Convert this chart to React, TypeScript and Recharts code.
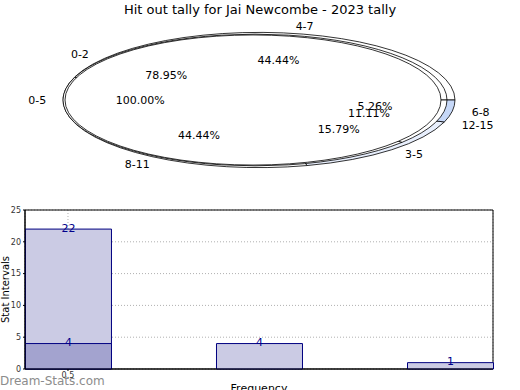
import React from 'react';
import {
  PieChart,
  Pie,
  Cell,
  BarChart,
  Bar,
  XAxis,
  YAxis,
  CartesianGrid,
  LabelList,
  ReferenceArea
} from 'recharts';

// pie groups (counts behind the percentages)
const groupANames = ['0-2', '3-5', '6-8'];
const groupAValues = [15, 3, 1];
const groupAColors = ['#ffffff', '#e8effd', '#c6d8f8'];

const groupBNames = ['4-7', '8-11', '12-15'];
const groupBValues = [4, 4, 1];
const groupBColors = ['#ffffff', '#ffffff', '#ffffff'];

const groupCNames = ['0-5'];
const groupCValues = [19];
const groupCColors = ['#ffffff'];

// bar chart
const barX = [0.5, 1.5, 2.5];
const barTotals = [22, 4, 1];
const barOverlay = [4, null, null];
const yTicks = [0, 5, 10, 15, 20, 25];
const xTicks = [0.5];

const RADIAN = Math.PI / 180;
const FONT = '"DejaVu Sans", sans-serif';

const toRows = (names: string[], values: number[]) =>
  names.map((name, i) => ({ name, value: values[i] }));

const barData = barX.map((x, i) => ({ x, total: barTotals[i], overlay: barOverlay[i] }));

// elliptical sector instead of the round one, flat = ry / rx
const makeSector = (flat: number) => (props: any) => {
  const { cx, cy, outerRadius, startAngle, endAngle, fill } = props;
  const rx = outerRadius;
  const ry = outerRadius * flat;
  if (Math.abs(endAngle - startAngle) >= 359.99) {
    return <ellipse cx={cx} cy={cy} rx={rx} ry={ry} fill={fill} stroke="#000" strokeWidth={0.8} />;
  }
  const pt = (a: number) => [cx + rx * Math.cos(a * RADIAN), cy - ry * Math.sin(a * RADIAN)];
  const [x1, y1] = pt(startAngle);
  const [x2, y2] = pt(endAngle);
  const large = Math.abs(endAngle - startAngle) > 180 ? 1 : 0;
  return (
    <path
      d={`M${cx},${cy} L${x1},${y1} A${rx},${ry} 0 ${large} 0 ${x2},${y2} Z`}
      fill={fill}
      stroke="#000"
      strokeWidth={0.8}
      strokeLinejoin="round"
    />
  );
};

const NoSector = () => <g />;

const makeLabel = (flat: number) => (p: any) => {
  const { cx, cy, outerRadius, midAngle, percent, name } = p;
  const rx = outerRadius;
  const ry = outerRadius * flat;
  const c = Math.cos(midAngle * RADIAN);
  const s = Math.sin(midAngle * RADIAN);
  const ox = cx + rx * 1.1 * c;
  const oy = cy - ry * 1.1 * s;
  const ix = cx + rx * 0.6 * c;
  const iy = cy - ry * 0.6 * s;
  return (
    <g>
      <text x={ox} y={oy} textAnchor={c < 0 ? 'end' : 'start'} dominantBaseline="central" fontSize={11} fill="#000" fontFamily={FONT}>
        {name}
      </text>
      <text x={ix} y={iy} textAnchor="middle" dominantBaseline="central" fontSize={11} fill="#000" fontFamily={FONT}>
        {`${(percent * 100).toFixed(2)}%`}
      </text>
    </g>
  );
};

// cx/r draw the ring, lcx/lr place its texts
const pies = [
  { key: 'a', names: groupANames, values: groupAValues, colors: groupAColors, cx: 259, r: 196, lcx: 259, lr: 196, flat: 0.345 },
  { key: 'b', names: groupBNames, values: groupBValues, colors: groupBColors, cx: 255, r: 192, lcx: 258, lr: 197, flat: 0.343 },
  { key: 'c', names: groupCNames, values: groupCValues, colors: groupCColors, cx: 253, r: 188, lcx: 253, lr: 188, flat: 0.346 }
];

const BarValueLabel = (props: any) => {
  const { x, y, width, value } = props;
  if (value == null) return null;
  return (
    <text x={x + width / 2} y={y - 1} textAnchor="middle" dominantBaseline="central" fontSize={11} fill="#00008b" fontFamily={FONT}>
      {value}
    </text>
  );
};

const YTitle = (props: any) => {
  const vb = props.viewBox || { y: 10, height: 159 };
  const cy = vb.y + vb.height / 2;
  return (
    <text x={5} y={cy} transform={`rotate(-90, 5, ${cy})`} textAnchor="middle" dominantBaseline="central" fontSize={10} fill="#000" fontFamily={FONT}>
      Stat Intervals
    </text>
  );
};

export default function App() {
  return (
    <div style={{ position: 'absolute', left: 0, top: 0, width: 520, height: 390, overflow: 'hidden', background: '#fff', fontFamily: FONT }}>
      <div style={{ position: 'absolute', top: 2, left: 0, width: 520, textAlign: 'center', fontSize: 13, lineHeight: '16px', color: '#000' }}>
        Hit out tally for Jai Newcombe - 2023 tally
      </div>

      <div style={{ position: 'absolute', top: 0, left: 0 }}>
        <PieChart width={520} height={200} margin={{ top: 0, right: 0, bottom: 0, left: 0 }}>
          {pies.map((g) => (
            <Pie
              key={g.key}
              data={toRows(g.names, g.values)}
              dataKey="value"
              nameKey="name"
              cx={g.cx}
              cy={100}
              innerRadius={0}
              outerRadius={g.r}
              startAngle={0}
              endAngle={360}
              stroke="#000"
              labelLine={false}
              label={false}
              shape={makeSector(g.flat)}
              activeShape={makeSector(g.flat)}
              inactiveShape={makeSector(g.flat)}
              isAnimationActive={false}
            >
              {g.colors.map((c, i) => (
                <Cell key={`cell-${g.key}-${i}`} fill={c} />
              ))}
            </Pie>
          ))}
          {pies.map((g) => (
            <Pie
              key={`lbl-${g.key}`}
              data={toRows(g.names, g.values)}
              dataKey="value"
              nameKey="name"
              cx={g.lcx}
              cy={100}
              innerRadius={0}
              outerRadius={g.lr}
              startAngle={0}
              endAngle={360}
              labelLine={false}
              label={makeLabel(g.flat)}
              shape={NoSector}
              activeShape={NoSector}
              inactiveShape={NoSector}
              isAnimationActive={false}
            />
          ))}
        </PieChart>
      </div>

      <div style={{ position: 'absolute', top: 200, left: 0 }}>
        <BarChart width={520} height={200} data={barData} margin={{ top: 10, right: 27, left: 0, bottom: 0 }}>
          <CartesianGrid xAxisId="a" stroke="#b0b0b0" strokeDasharray="1 2" />
          <XAxis
            xAxisId="a"
            dataKey="x"
            type="number"
            domain={[0.275, 2.725]}
            ticks={xTicks}
            height={31}
            tickSize={2}
            tickMargin={1}
            tick={{ fontSize: 8, fill: '#333', fontFamily: FONT }}
            stroke="#000"
            label={{ value: 'Frequency', position: 'insideBottom', offset: 8, fontSize: 11, fill: '#000', fontFamily: FONT }}
          />
          <XAxis xAxisId="b" dataKey="x" type="number" domain={[0.275, 2.725]} hide />
          <YAxis
            domain={[0, 25]}
            ticks={yTicks}
            width={25}
            tickSize={2}
            tickMargin={2}
            tick={{ fontSize: 8, fill: '#333', fontFamily: FONT }}
            stroke="#000"
            label={{ content: <YTitle /> }}
          />
          <Bar xAxisId="a" dataKey="total" barSize={86} fill="#cbcbe4" stroke="#000080" strokeWidth={1} isAnimationActive={false}>
            <LabelList dataKey="total" content={<BarValueLabel />} />
          </Bar>
          <Bar xAxisId="b" dataKey="overlay" barSize={86} fill="#a3a3cf" stroke="#000080" strokeWidth={1} isAnimationActive={false}>
            <LabelList dataKey="overlay" content={<BarValueLabel />} />
          </Bar>
          <ReferenceArea xAxisId="a" x1={0.275} x2={2.725} y1={0} y2={25} fill="none" fillOpacity={0} stroke="#000" strokeWidth={1} ifOverflow="visible" />
        </BarChart>
      </div>

      <div style={{ position: 'absolute', left: 0, top: 373, fontSize: 12, color: '#8c8c8c', lineHeight: '16px' }}>
        Dream-Stats.com
      </div>
    </div>
  );
}
